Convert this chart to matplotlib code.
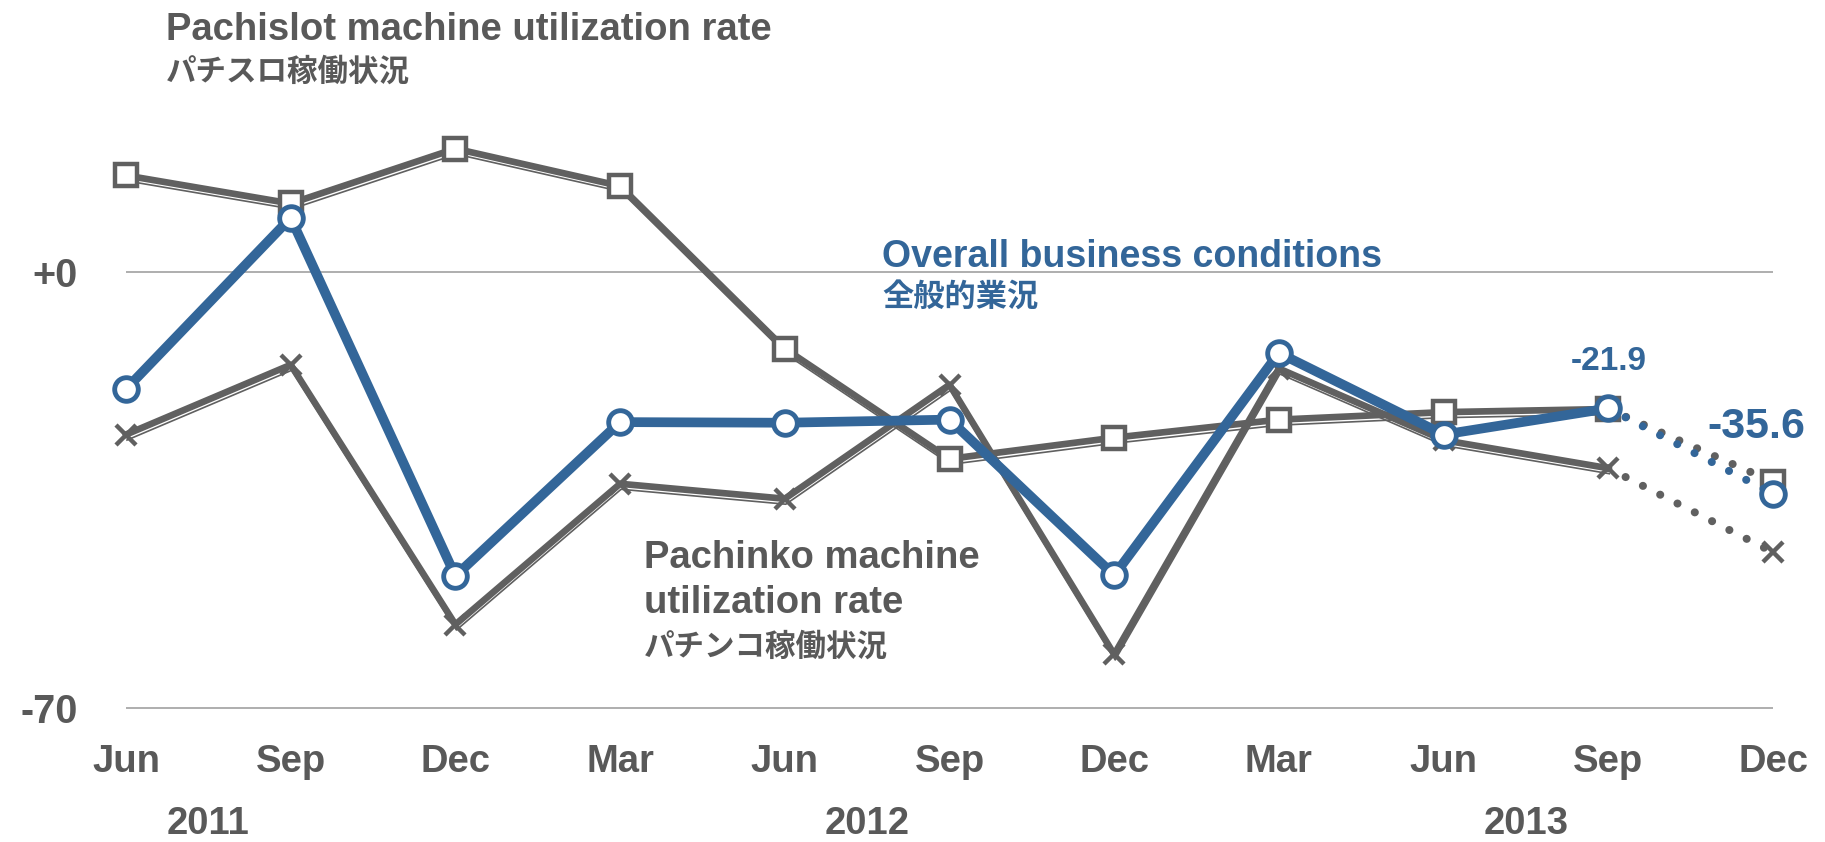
import numpy as np
import matplotlib.pyplot as plt
from matplotlib import transforms

months = ['Jun', 'Sep', 'Dec', 'Mar', 'Jun', 'Sep', 'Dec', 'Mar', 'Jun', 'Sep', 'Dec']
years = ['2011', '2012', '2013']
year_pos = [0.5, 4.5, 8.5]

pachislot = [15.5, 11.0, 19.8, 13.8, -12.3, -30.0, -26.6, -23.7, -22.5, -22.0, -33.7]
pachinko = [-26.1, -14.9, -56.6, -34.0, -36.4, -18.1, -61.4, -15.5, -27.0, -31.5, -45.0]
overall = [-18.8, 8.7, -48.8, -24.1, -24.2, -23.7, -48.7, -13.0, -26.1, -21.9, -35.6]

gray = '#606060'
tgray = '#595959'
blue = '#336699'
latin = ['Liberation Sans', 'DejaVu Sans']
cjk = ['Noto Sans CJK JP', 'DejaVu Sans']

W, H = 1825, 842
fig = plt.figure(figsize=(W / 100, H / 100), dpi=100)
# axes placed so that 0 -> y=272px, -70 -> y=708px
ppu = (708 - 272) / 70.0
ylo, yhi = -72, 40
top_px = 272 - yhi * ppu
bot_px = 272 - ylo * ppu
ax = fig.add_axes([126 / W, 1 - bot_px / H, (1773 - 126) / W, (bot_px - top_px) / H])
ax.set_xlim(0, 10)
ax.set_ylim(ylo, yhi)
for s in ax.spines.values():
    s.set_visible(False)

x = np.arange(len(months))
for yv in [0, -70]:
    ax.axhline(yv, color='#999999', lw=1.1, zorder=1)

shadow = transforms.offset_copy(ax.transData, fig=fig, x=1, y=-5.5, units='dots')
solid = slice(0, 10)
dotted = slice(9, 11)
dots = (0, (0.01, 2.4))

for vals, mk, ms in [(pachislot, 's', 16), (pachinko, 'x', 15)]:
    v = np.array(vals)
    ax.plot(x[solid], v[solid], color=gray, lw=1.2, transform=shadow, zorder=2, clip_on=False)
    ax.plot(x[solid], v[solid], color=gray, lw=4.8, zorder=3, clip_on=False)
    ax.plot(x[dotted], v[dotted], color=gray, lw=5.8, ls=dots, dash_capstyle='round', zorder=3, clip_on=False)
    ax.plot(x, v, ls='none', marker=mk, ms=ms, mew=3.2, mfc='white', mec=gray, zorder=4, clip_on=False)

ov = np.array(overall)
ax.plot(x[solid], ov[solid], color=blue, lw=7, zorder=5, clip_on=False)
ax.plot(x[dotted], ov[dotted], color=blue, lw=5.8, ls=dots, dash_capstyle='round', zorder=5, clip_on=False)
ax.plot(x, ov, ls='none', marker='o', ms=17, mew=3.5, mfc='white', mec=blue, zorder=6, clip_on=False)

ax.set_xticks(x, months)
ax.set_yticks([0, -70], ['+0', '-70'])
ax.tick_params(axis='x', length=0, pad=17, labelsize=27.5, labelcolor=tgray)
ax.tick_params(axis='y', length=0, pad=35, labelsize=28.5, labelcolor=tgray)
for lab in ax.get_xticklabels() + ax.get_yticklabels():
    lab.set_fontweight('bold')
    lab.set_family(latin)

for yr, xp in zip(years, year_pos):
    ax.text(xp, -90.2, yr, ha='center', va='baseline', fontsize=27.5, fontweight='bold', color=tgray, family=latin)

ax.text(0.243, 37.2, 'Pachislot machine utilization rate', fontsize=27.5, fontweight='bold', color=tgray, family=latin, va='baseline')
ax.text(0.243, 30.7, 'パチスロ稼働状況', fontsize=22, fontweight='bold', color=tgray, family=cjk, va='baseline')
ax.text(4.59, 0.8, 'Overall business conditions', fontsize=27, fontweight='bold', color=blue, family=latin, va='baseline')
ax.text(4.59, -5.4, '全般的業況', fontsize=22.5, fontweight='bold', color=blue, family=cjk, va='baseline')
ax.text(3.143, -47.5, 'Pachinko machine', fontsize=27.5, fontweight='bold', color=tgray, family=latin, va='baseline')
ax.text(3.143, -54.8, 'utilization rate', fontsize=27.5, fontweight='bold', color=tgray, family=latin, va='baseline')
ax.text(3.143, -61.6, 'パチンコ稼働状況', fontsize=22, fontweight='bold', color=tgray, family=cjk, va='baseline')

ax.text(9, -14.3, '%.1f' % overall[9], ha='center', va='center', fontsize=24, fontweight='bold', color=blue, family=latin)
ax.text(9.9, -24.9, '%.1f' % overall[10], ha='center', va='center', fontsize=31, fontweight='bold', color=blue, family=latin)

plt.savefig('out.png', dpi=100)
